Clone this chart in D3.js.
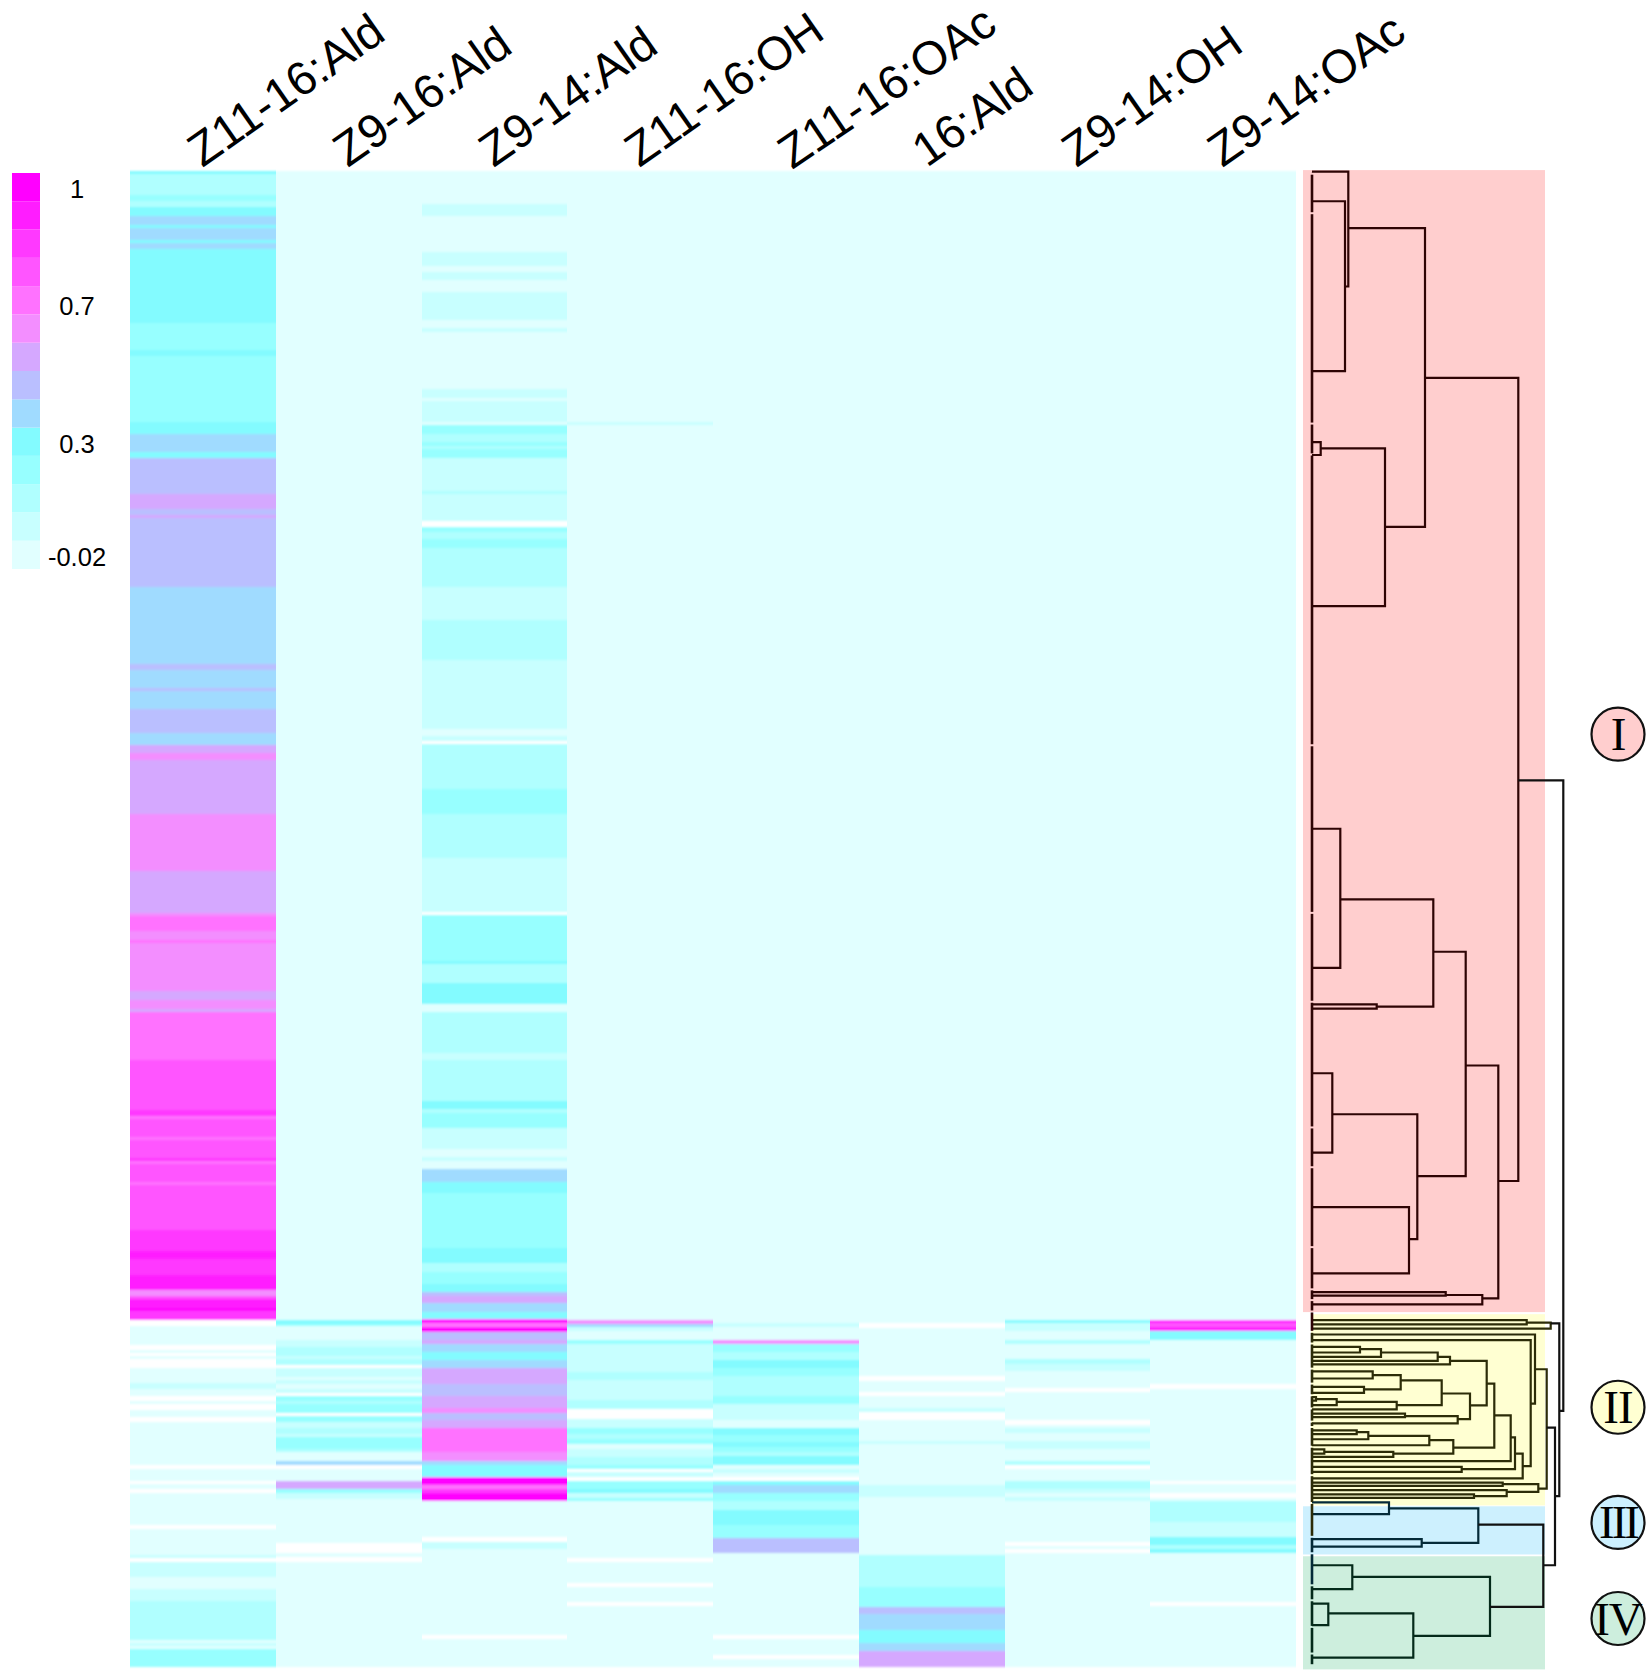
<!DOCTYPE html>
<html>
<head>
<meta charset="utf-8">
<script src="https://cdn.jsdelivr.net/npm/d3@7"></script>
<style>
body {margin: 0; background: #fff;}
text {font-family: "Liberation Sans", Arial, sans-serif; fill: #000;}
</style>
</head>
<body>
<div id="chart"></div>
<script>
var compounds = ["Z11-16:Ald", "Z9-16:Ald", "Z9-14:Ald", "Z11-16:OH", "Z11-16:OAc", "16:Ald", "Z9-14:OH", "Z9-14:OAc"]

// colour key, low to high
var keyColors = ["#e1ffff", "#c8ffff", "#b0ffff", "#97ffff", "#83fbff", "#a0dbff", "#babfff", "#d5a8ff",
                 "#f38eff", "#ff72ff", "#ff55ff", "#ff39ff", "#ff1dff", "#ff00ff"]
var keyTicks = [1, 0.7, 0.3, -0.02]

// every column is a list of [last row of the run, value], null = no value (white)
var rowCount = 500
var z1116Ald = [[1,.31],[8,.16],[10,.24],[12,.16],[15,.31],[18,.38],[19,.31],[23,.38],[24,.31],[26,.38],[51,.31],[57,.24],[60,.24],[62,.31],[84,.24],[88,.31],[94,.38],[96,.31],[108,.45],[113,.53],[115,.45],[116,.53],[139,.45],[165,.38],[167,.45],[173,.38],[174,.45],[180,.38],[188,.45],[192,.38],[194.5,.53],[197,.6],[215,.53],[234,.6],[248,.53],[249,.6],[254,.67],[257,.6],[258,.67],[274,.6],[277,.53],[280,.6],[281,.53],[297,.67],[314,.75],[316,.82],[317,.67],[323,.75],[324,.67],[330,.75],[331,.82],[332,.67],[338,.75],[339,.67],[354,.75],[361,.82],[363.5,.89],[369,.82],[374,.89],[376,.6],[377,.75],[380,.89],[381,.96],[384,.82],
  [386,null],[392.5,.02],[394,null],[395,.02],[396,null],[397,.02],[400,null],[405,.02],[407,.09],[409.5,.02],[411,null],[412,.02],[414,null],[416.5,.02],[418,null],[432.5,.02],[434,null],[438,.02],[439,null],[440.5,.02],[442,null],[452.5,.02],[454,null],[462.6,.02],[463.7,.09],[465,null],[470,.09],[474,.02],[478,.09],[491,.16],[492,.02],[493,.09],[494,.02],[500,.24]]
var z916Ald = [[384,.02],[385.3,.31],[386,.24],[390.6,.02],[393,.09],[396,.16],[397,.09],[399,.16],[400,null],[403,.09],[404,.02],[405.5,.09],[407,.02],[408.4,.09],[409.5,null],[411,.24],[412,.16],[415,.24],[416,null],[418,.24],[420,.09],[422,.16],[423,.09],[427,.24],[428,.16],[431,.02],[432.5,.38],[434,null],[438,.02],[440.5,.53],[442,.24],[443.7,.09],[458.4,.02],[462,null],[463.2,.02],[465,null],[500,.02]]
var z914Ald = [[11,.02],[15,.09],[27,.02],[32,.09],[34,.02],[36.5,.09],[40.6,.02],[50,.09],[52.5,.02],[54,.09],[73,.02],[76,.09],[77,.02],[84,.09],[85,.02],[88,.24],[90.5,.16],[92,.24],[93,.16],[96,.24],[107,.09],[108,.16],[117,.09],[119,null],[120.6,.24],[123,.16],[126,.24],[139,.16],[150,.09],[163.5,.16],[186.5,.09],[189,.02],[190.5,.09],[191.7,null],[206.7,.16],[215,.24],[229.8,.16],[247.6,.09],[248.7,null],[264,.24],[265,.31],[271.6,.16],[278.3,.31],[281,.02],[294.8,.16],[297.2,.09],[311,.16],[313.6,.31],[315,.16],[319.8,.24],[327,.09],[329.7,.02],[331,.09],[333.7,.02],[337.8,.38],[341.7,.31],[360,.24],[365,.31],[368,.16],[372,.24],[374.6,.31],[376,.45],[378.5,.53],[381.3,.38],[383.8,.31],
  [385,.96],[386.3,.67],[387.9,.96],[390.8,.45],[392,.53],[394.7,.38],[397.3,.31],[400,.38],[405.5,.53],[409.5,.45],[413.6,.53],[415,.6],[417.5,.45],[420.3,.53],[428.3,.67],[431,.6],[432.5,.38],[436.5,.31],[439.2,.96],[440.6,.67],[442,.82],[444.6,.96],[456.7,.02],[458.2,null],[460.7,.09],[489.4,.02],[490.5,null],[500,.02]]
var z1116OH = [[84,.02],[85,.09],[384,.02],[385.3,.6],[386.3,.38],[387.7,.09],[390.6,.02],[392,.24],[401.4,.09],[404.2,.16],[410.9,.09],[413.9,.16],[417,null],[420.3,.09],[422.2,.24],[423.7,.16],[425.5,.24],[427.3,.02],[429.8,.09],[432.5,.16],[433.9,.24],[435,null],[436.5,.09],[437.8,null],[440.6,.24],[442,.31],[443.4,.09],[444.6,.24],[463.7,.02],[464.9,null],[471.9,.02],[473.2,null],[478.4,.02],[479.7,null],[500,.02]]
var z1116OAc = [[385,.02],[386.3,.09],[387.7,.02],[390.6,.02],[392,.6],[394.7,.24],[397.3,.16],[400,.31],[402.8,.24],[409.5,.16],[412.2,.24],[417.5,.09],[420.3,.02],[422.5,.31],[424.8,.24],[426.4,.31],[428.3,.24],[429.5,.16],[432.5,.31],[433.9,.02],[435.3,.09],[436.5,.02],[437.9,null],[439.2,.31],[442,.38],[444.6,.24],[447.6,.16],[452.6,.31],[457,.24],[462,.45],[489.4,.02],[490.7,null],[496,.02],[497.4,null],[500,.02]]
var c16Ald = [[385,.02],[386.6,null],[402.8,.02],[404.4,null],[408,.02],[409.4,null],[413.6,.02],[414.8,.09],[417.5,null],[424.4,.02],[425.5,.09],[439.2,.02],[443.1,.09],[462.6,.02],[473.2,.16],[479.9,.24],[482.4,.45],[487.7,.38],[492.1,.31],[494.7,.38],[500,.53]]
var z914OH = [[384,.02],[385,.31],[387.7,.09],[390.6,.02],[392,.16],[397,.02],[398.8,.16],[401.2,.09],[406.7,.02],[408,null],[417.5,.02],[419,null],[420.3,.02],[421.7,.09],[424.4,.02],[427,.09],[431,.02],[432.5,.16],[433.9,null],[437.8,.02],[440.6,.16],[441.8,.09],[443.1,.02],[444.6,.09],[458.2,.02],[459.6,null],[460.7,.02],[462,null],[500,.02]]
var z914OAc = [[384,.02],[385,.89],[386.3,.75],[387.7,.89],[390.6,.31],[405.5,.02],[407,null],[437.8,.02],[439,null],[441.7,.02],[443.4,null],[444.6,.02],[451.5,.16],[456.7,.09],[459.3,.31],[460.7,.16],[462,.31],[478.4,.02],[479.7,null],[500,.02]]
var columns = [z1116Ald, z916Ald, z914Ald, z1116OH, z1116OAc, c16Ald, z914OH, z914OAc]

// clusters
var clusterNames = ["I", "II", "III", "IV"]
var clusterFill = ["#ffcece", "#ffffd2", "#cdf0fe", "#cdeedd"]
var clusterLine = ["#2e0404", "#2c2c08", "#042a38", "#042a1a"]
var clusterFirstRow = [-0.2, 382.1, 446.3, 463]
var clusterLastRow = [381.4, 446, 462.4, 500.8]
var clusterMidRow = [188.3, 413.2, 451.7, 483.8]

// dendrogram merges: [height, top row, bottom row, height of top child, height of bottom child]
var mergesI = [[33,10.2,67,0,0],[36.3,0.3,38.7,0,33],[8.7,90.7,95,0,0],[73,92.8,145.5,8.7,0],[113,19.2,119,36.3,73],
  [28.3,219.9,266.4,0,0],[64.7,278.6,280,0,0],[121.3,243.5,279.3,28.3,64.7],[20.3,301.6,328.1,0,0],[97,346.3,368.5,0,0],
  [105.3,315.3,357,20.3,97],[153.7,261,336,121.3,105.3],[133.7,374.7,375.9,0,0],[170.3,375.7,378.8,133.7,0],
  [186.3,299,376.8,153.7,170.3],[206.3,69.2,337.6,113,186.3]]
var mergesII = [[214.7,384.1,385.5,0,0],[238.7,384.9,386.9,214.7,0],[48,393,394.9,0,0],[69,393.8,396.4,48,0],[125.7,394.9,397.7,69,0],
  [138,396.4,398.9,125.7,0],[60.7,401.2,403.6,0,0],[52,406.4,408.4,0,0],[88.7,402.5,407.2,60.7,52],[4,409.8,411,0,0],
  [24.7,410.5,412.5,4,0],[84.7,411.4,413.9,24.7,0],[129.7,404.2,412.5,88.7,84.7],[93,415.3,416.5,0,0],[145.7,416.2,418.6,93,0],
  [158,408.6,417.2,129.7,145.7],[174.7,397.7,412.6,138,158],[44.7,420.9,422.2,0,0],[56.3,421.5,423.9,44.7,0],[117.3,422.8,425.9,56.3,0],
  [12.3,427.3,428.7,0,0],[81.3,428.1,429.8,12.3,0],[141.3,424.2,428.7,117.3,81.3],[182.3,405.3,426.7,174.7,141.3],
  [198.7,415.9,431.2,182.3,0],[149.7,433.1,434.8,0,0],[203,423.3,433.9,198.7,149.7],[210.7,428.7,437,203,0],
  [218.7,390.8,432.9,0,210.7],[223,388.9,412,0,218.7],[190.7,438.4,439.5,0,0],[162,442.3,443.5,0,0],[194.7,440.9,442.9,0,162],
  [226.3,438.9,441.5,190.7,194.7],[234.7,400.5,440.4,223,226.3]]
var mergesIII = [[77,445,448.9,0,0],[109.7,457.3,459.8,0,0],[166.3,447,458.5,77,109.7]]
var mergesIV = [[40.3,466,474,0,0],[16.3,478.8,486,0,0],[101.3,482.1,496.9,16.3,0],[178,469.9,489.6,40.3,101.3]]
var mergesRoot = [[231.3,452.4,479.9,166.3,178],[243,420,466,234.7,231.3],[247.3,385.2,442.9,238.7,243],[251.3,203.7,414.4,206.3,247.3]]
// breaks in the leaf line at the foot of the tree
var leafBreaks = [1,14.2,84.5,94.8,192,248,277.7,319.7,333,359.7,373.8,377.4,381.2,388,391.9,400.3,405.3,409.2,413.6,418,419.8,426.4,435.9,445.2,456.5,462,472.7,477.7,486.6,495.5]

var svg = d3.select("#chart").append("svg").attr("width", 1650).attr("height", 1679)

// heatmap scales
var x = d3.scaleBand().domain(compounds).range([130.3, 1296])
var y = d3.scaleLinear().domain([0, rowCount]).range([170.7, 1667])
var color = d3.scaleQuantize().domain([-0.02, 1]).range(keyColors)

svg.append("defs").append("filter").attr("id", "soft")
    .attr("x", "-2%").attr("y", "-2%").attr("width", "104%").attr("height", "104%")
  .append("feGaussianBlur").attr("stdDeviation", "0.5 1")

var heat = svg.append("g").attr("filter", "url(#soft)")
columns.forEach(function(runs, i) {
  var prev = 0
  var cells = runs.map(function(d) {
    var c = {from: prev, to: d[0], value: d[1]}
    prev = d[0]
    return c
  })
  heat.append("g").selectAll("rect")
      .data(cells)
      .enter().append("rect")
      .attr("x", x(compounds[i]))
      .attr("width", x.bandwidth())
      .attr("y", function(d) {return y(d.from)})
      .attr("height", function(d) {return y(d.to) - y(d.from)})
      .attr("fill", function(d) {return d.value === null ? "#fff" : color(d.value)})
      .attr("shape-rendering", "crispEdges")
})

// column labels
var xAxis = svg.append("g").attr("transform", "translate(0,166)")
    .call(d3.axisTop(x).tickSize(0))
xAxis.select(".domain").remove()
xAxis.selectAll("text")
    .attr("x", 0).attr("y", 0).attr("dy", 0)
    .attr("text-anchor", "start")
    .attr("transform", function(d) {
      // the OAc label is the longest, it would run off the top of the page
      if (d == "Z11-16:OAc") return "translate(6,4) rotate(-34)"
      if (d == "16:Ald") return "translate(-5,2) rotate(-35)"
      return "translate(-1,2) rotate(-35)"
    })
    .style("font-size", "47px")
    .style("font-family", '"Liberation Sans", Arial, sans-serif')

// colour key
var keyY = d3.scaleBand().domain(d3.range(keyColors.length)).range([569, 173])
svg.append("g").selectAll("rect")
    .data(keyColors)
    .enter().append("rect")
    .attr("x", 12).attr("width", 28)
    .attr("y", function(d, i) {return keyY(i)})
    .attr("height", keyY.bandwidth())
    .attr("fill", function(d) {return d})
var keyScale = d3.scaleLinear().domain([-0.02, 0.3, 0.7, 1]).range([557, 444, 306, 189])
var keyAxis = svg.append("g").attr("transform", "translate(77,0)")
    .call(d3.axisRight(keyScale).tickValues(keyTicks).tickFormat(function(d) {return d}).tickSize(0).tickPadding(0))
keyAxis.select(".domain").remove()
keyAxis.selectAll("text")
    .attr("text-anchor", "middle")
    .style("font-size", "25.5px")
    .style("font-family", '"Liberation Sans", Arial, sans-serif')

// dendrogram
var tree = d3.scaleLinear().domain([0, 252]).range([1312, 1564])

svg.append("g").selectAll("rect")
    .data(clusterNames)
    .enter().append("rect")
    .attr("x", function(d, i) {return i == 1 ? tree(-1) : tree(-9)})
    .attr("width", function(d, i) {return i == 1 ? tree(233) - tree(-1) : tree(233) - tree(-9)})
    .attr("y", function(d, i) {return y(clusterFirstRow[i])})
    .attr("height", function(d, i) {return y(clusterLastRow[i]) - y(clusterFirstRow[i])})
    .attr("fill", function(d, i) {return clusterFill[i]})

var bracket = d3.line()
    .x(function(d) {return tree(d[0])})
    .y(function(d) {return y(d[1])})

function drawMerges(merges, stroke, width) {
  svg.append("g").selectAll("path")
      .data(merges)
      .enter().append("path")
      .attr("d", function(m) {return bracket([[m[3], m[1]], [m[0], m[1]], [m[0], m[2]], [m[4], m[2]]])})
      .attr("fill", "none")
      .attr("stroke", stroke)
      .attr("stroke-width", width)
}
drawMerges(mergesI, clusterLine[0], 2.2)
drawMerges(mergesII, clusterLine[1], 2.2)
drawMerges(mergesIII, clusterLine[2], 2.2)
drawMerges(mergesIV, clusterLine[3], 2.2)
drawMerges(mergesRoot, "#111", 2.2)

var leafStops = [0.3].concat(leafBreaks, [499.4])
var clusterOf = d3.scaleThreshold().domain(clusterFirstRow.slice(1)).range(clusterLine)
svg.append("g").selectAll("line")
    .data(d3.pairs(leafStops))
    .enter().append("line")
    .attr("x1", tree(0)).attr("x2", tree(0))
    .attr("y1", function(d) {return y(d[0]) + 1})
    .attr("y2", function(d) {return y(d[1]) - 1})
    .attr("stroke", function(d) {return clusterOf(d[0])})
    .attr("stroke-width", 2.6)

// cluster badges
var badge = svg.append("g").selectAll("g")
    .data(clusterNames)
    .enter().append("g")
    .attr("transform", function(d, i) {return "translate(1618," + y(clusterMidRow[i]) + ")"})
badge.append("circle")
    .attr("r", 26.5)
    .attr("fill", function(d, i) {return clusterFill[i]})
    .attr("stroke", "#111")
    .attr("stroke-width", 2.2)
badge.append("text")
    .attr("text-anchor", "middle")
    .attr("dy", "0.34em")
    .style("font-family", '"Liberation Serif", "Times New Roman", serif')
    .style("font-size", "47px")
    .style("letter-spacing", function(d) {return d == "III" ? "-3px" : "-1px"})
    .text(function(d) {return d})
</script>
</body>
</html>
